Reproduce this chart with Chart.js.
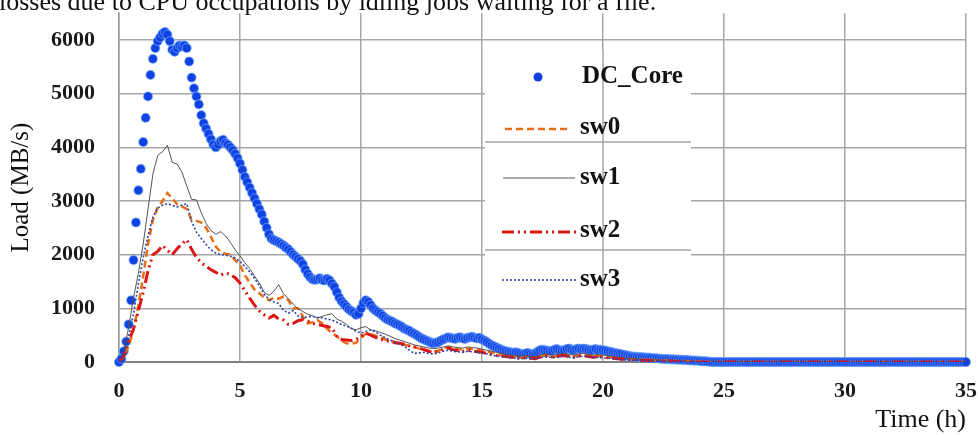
<!DOCTYPE html>
<html><head><meta charset="utf-8">
<script src="https://cdn.jsdelivr.net/npm/chart.js@4.4.1/dist/chart.umd.min.js"></script>
<style>
html,body{margin:0;padding:0;background:#fff;}
#wrap{position:relative;width:978px;height:435px;overflow:hidden;background:#fff;}
#topline{position:absolute;left:-1px;top:-11px;font:26px/26px "Liberation Serif",serif;color:#111;white-space:nowrap;}
canvas{position:absolute;left:0;top:0;}
</style></head><body>
<div id="wrap"><canvas id="c" width="978" height="435"></canvas><div id="topline">losses due to CPU occupations by idling jobs waiting for a file.</div></div>
<script>
const seriesNames = ['DC_Core', 'sw0', 'sw1', 'sw2', 'sw3'];
const xTicks = [0, 5, 10, 15, 20, 25, 30, 35];
const yTicks = [0, 1000, 2000, 3000, 4000, 5000, 6000];
const DC_STEP_H = 0.1;   // DC_Core sampled every 0.1 h
const SW_STEP_H = 0.2;   // switch series sampled every 0.2 h

const dcCore = [
0,60,200,380,700,1150,1900,2600,3200,3600,
4100,4550,4950,5350,5650,5850,5980,6050,6120,6150,
6100,5980,5820,5780,5850,5900,5880,5900,5850,5600,
5300,5100,4950,4800,4600,4450,4350,4250,4150,4050,
4000,4050,4120,4140,4080,4050,4000,3950,3880,3800,
3700,3580,3450,3350,3250,3150,3050,2950,2850,2750,
2620,2500,2380,2300,2270,2250,2230,2200,2170,2130,
2100,2050,2000,1960,1920,1880,1820,1720,1640,1580,
1540,1530,1540,1560,1530,1520,1550,1520,1460,1400,
1300,1200,1130,1080,1030,980,950,920,880,900,
1000,1100,1150,1120,1060,1000,960,930,900,860,
820,790,770,750,720,700,680,650,620,600,
580,550,530,500,470,440,420,400,380,360,
350,360,370,400,420,440,460,450,440,430,
450,460,440,430,450,460,470,450,440,450,
420,400,370,340,310,290,270,250,230,210,
200,190,180,170,180,170,150,140,160,170,
150,140,160,190,220,230,220,210,200,210,
230,240,220,210,220,240,250,230,220,240,
250,240,250,240,230,220,230,240,220,230,
220,210,200,190,180,170,160,150,140,130,
120,110,100,100,95,90,90,85,80,80,
75,70,70,65,60,60,55,55,50,50,
45,45,40,40,35,35,30,30,25,25,
20,15,15,10,5,0,0,0,0,0,
0,0,0,0,0,0,0,0,0,0,
0,0,0,0,0,0,0,0,0,0,
0,0,0,0,0,0,0,0,0,0,
0,0,0,0,0,0,0,0,0,0,
0,0,0,0,0,0,0,0,0,0,
0,0,0,0,0,0,0,0,0,0,
0,0,0,0,0,0,0,0,0,0,
0,0,0,0,0,0,0,0,0,0,
0,0,0,0,0,0,0,0,0,0,
0,0,0,0,0,0,0,0,0,0,
0
];

const sw0 = [
0,100,300,600,1050,
1600,2200,2650,2880,3000,
3150,3050,2940,2900,2850,
2650,2630,2600,2500,2330,
2150,2050,2020,2000,1900,
1800,1620,1480,1350,1280,
1200,1150,1200,1180,1220,
1150,1000,1000,850,720,
740,780,720,620,540,
480,400,350,340,360,
450,530,520,490,470,
420,400,370,350,320,
300,280,250,230,200,
190,210,250,280,260,
240,230,250,240,230,
220,200,180,150,130,
110,100,90,80,90,
80,70,100,120,110,
100,120,130,110,100,
120,130,110,100,110,
100,90,80,70,60,
60,50,50,40,40,
40,30,30,30,20,
20,20,20,10,10,
10,0,0,0,0,
0,0,0,0,0,0,0,0,0,0,
0,0,0,0,0,0,0,0,0,0,
0,0,0,0,0,0,0,0,0,0,
0,0,0,0,0,0,0,0,0,0,
0,0,0,0,0,0,0,0,0,0,
0
];

const sw1 = [
0,200,650,1200,1650,
2200,2850,3500,3850,3920,
4040,3720,3690,3540,3280,
3030,3020,2780,2580,2450,
2380,2430,2350,2230,2090,
1980,1850,1740,1600,1470,
1300,1240,1320,1440,1270,
1180,1080,990,940,890,
860,820,850,880,900,
800,760,700,620,600,
640,660,600,580,550,
520,480,440,410,380,
350,320,300,280,260,
250,260,280,300,280,
270,260,280,270,260,
240,220,200,180,160,
140,130,120,110,120,
110,100,130,150,140,
130,150,160,140,130,
150,160,140,130,140,
130,120,100,90,80,
70,60,60,50,50,
40,40,30,30,30,
20,20,20,10,10,
10,0,0,0,0,
0,0,0,0,0,0,0,0,0,0,
0,0,0,0,0,0,0,0,0,0,
0,0,0,0,0,0,0,0,0,0,
0,0,0,0,0,0,0,0,0,0,
0,0,0,0,0,0,0,0,0,0,
0
];

const sw2 = [
0,120,380,620,950,
1300,1700,2000,2060,2170,
2080,2000,2110,2200,2280,
2100,1950,1850,1780,1720,
1670,1620,1660,1630,1570,
1470,1330,1190,1060,950,
880,820,870,800,780,
700,720,770,790,760,
720,700,680,660,640,
480,420,410,400,420,
480,540,500,460,420,
400,380,360,350,330,
300,280,260,230,200,
180,200,240,260,230,
210,200,220,210,190,
180,160,140,120,110,
100,90,80,70,80,
70,60,90,110,100,
90,110,120,100,90,
110,120,100,90,100,
90,80,70,60,50,
50,40,40,30,30,
30,20,20,20,20,
10,10,10,10,0,
0,0,0,0,0,
0,0,0,0,0,0,0,0,0,0,
0,0,0,0,0,0,0,0,0,0,
0,0,0,0,0,0,0,0,0,0,
0,0,0,0,0,0,0,0,0,0,
0,0,0,0,0,0,0,0,0,0,
0
];

const sw3 = [
0,150,480,900,1450,
1950,2350,2700,2870,2920,
2950,2920,2890,2920,2950,
2620,2420,2300,2190,2090,
2030,2000,1990,1970,1940,
1870,1780,1680,1560,1420,
1260,1170,1120,1090,960,
910,960,860,830,840,
850,830,820,800,780,
740,700,670,630,570,
540,570,600,560,500,
450,410,370,330,290,
220,160,170,180,160,
150,170,200,220,200,
190,180,200,190,180,
170,150,130,110,100,
90,80,70,60,70,
60,60,80,100,90,
80,100,110,90,80,
100,110,90,80,90,
80,70,60,50,40,
40,30,30,30,20,
20,20,20,10,10,
10,10,0,0,0,
0,0,0,0,0,
0,0,0,0,0,0,0,0,0,0,
0,0,0,0,0,0,0,0,0,0,
0,0,0,0,0,0,0,0,0,0,
0,0,0,0,0,0,0,0,0,0,
0,0,0,0,0,0,0,0,0,0,
0
];

function toPoints(values, step) {
  return values.map((v, i) => ({ x: Math.round(i * step * 100) / 100, y: v }));
}

const styles = {
  dc:  { color: '#0f42e0', halo: 'rgba(110,165,255,0.6)' },
  sw0: { color: '#eb6c12', width: 2.5, dash: [7, 4] },
  sw1: { color: '#555555', width: 1, dash: [] },
  sw2: { color: '#dd1515', width: 3, dash: [12, 4, 2, 4, 2, 4] },
  sw3: { color: '#2b45a8', width: 1.6, dash: [2, 2] }
};

Chart.defaults.font.family = '"Liberation Serif", "Times New Roman", serif';
Chart.defaults.color = '#111';

const boxLegend = {
  id: 'boxLegend',
  afterDatasetsDraw(chart) {
    const ctx = chart.ctx, ys = chart.scales.y, xs = chart.scales.x;
    ctx.save();
    ctx.fillStyle = '#ffffff';
    ctx.fillRect(485, 50, 206, 254);
    ctx.strokeStyle = '#a6a6a6';
    ctx.lineWidth = 1.5;
    ctx.setLineDash([]);
    [4000, 2000].forEach(v => {
      const y = Math.round(ys.getPixelForValue(v)) - 5;
      ctx.beginPath(); ctx.moveTo(485, y); ctx.lineTo(691, y); ctx.stroke();
    });
    const gx = Math.round(xs.getPixelForValue(20));
    ctx.beginPath(); ctx.moveTo(gx, 50); ctx.lineTo(gx, 304); ctx.stroke();

    ctx.font = 'bold 25px "Liberation Serif", serif';
    ctx.textBaseline = 'middle';
    ctx.textAlign = 'left';
    ctx.beginPath(); ctx.arc(538, 77, 4.5, 0, Math.PI * 2);
    ctx.fillStyle = styles.dc.color; ctx.fill();
    ctx.fillStyle = '#111';
    ctx.fillText(seriesNames[0], 582, 77);
    const items = [
      { s: styles.sw0, x0: 505, x1: 570, y: 129, ty: 128, name: seriesNames[1] },
      { s: styles.sw1, x0: 503, x1: 575, y: 178, ty: 178, name: seriesNames[2] },
      { s: styles.sw2, x0: 502, x1: 577, y: 232, ty: 231, name: seriesNames[3] },
      { s: styles.sw3, x0: 502, x1: 577, y: 280, ty: 280, name: seriesNames[4] }
    ];
    items.forEach(it => {
      ctx.strokeStyle = it.s.color;
      ctx.lineWidth = it.s.width;
      ctx.setLineDash(it.s.dash);
      ctx.beginPath(); ctx.moveTo(it.x0, it.y); ctx.lineTo(it.x1, it.y); ctx.stroke();
      ctx.setLineDash([]);
      ctx.fillStyle = '#111';
      ctx.fillText(it.name, 580, it.ty);
    });
    ctx.restore();
  }
};

function lineSet(name, values, st, order) {
  return {
    label: name, data: toPoints(values, SW_STEP_H),
    borderColor: st.color, borderWidth: st.width, borderDash: st.dash,
    pointRadius: 0, pointHoverRadius: 0, tension: 0, fill: false, order: order
  };
}

new Chart(document.getElementById('c'), {
  type: 'line',
  data: {
    datasets: [
      {
        label: seriesNames[0], data: toPoints(dcCore, DC_STEP_H), showLine: false,
        pointRadius: 4.5, pointHoverRadius: 4.5, pointBackgroundColor: styles.dc.color,
        pointBorderColor: styles.dc.halo, pointBorderWidth: 1.2, order: 5, clip: 10
      },
      lineSet(seriesNames[1], sw0, styles.sw0, 4),
      lineSet(seriesNames[2], sw1, styles.sw1, 3),
      lineSet(seriesNames[3], sw2, styles.sw2, 2),
      lineSet(seriesNames[4], sw3, styles.sw3, 1)
    ]
  },
  options: {
    responsive: false, animation: false, devicePixelRatio: 1,
    layout: { padding: { left: 0, right: 12, top: 13, bottom: 0 } },
    plugins: { legend: { display: false }, tooltip: { enabled: false } },
    events: [],
    scales: {
      x: {
        type: 'linear', min: 0, max: 35,
        afterBuildTicks: s => { s.ticks = xTicks.map(v => ({ value: v })); },
        afterFit: s => { s.height = 73; },
        grid: { color: '#a6a6a6', lineWidth: 1.5, drawTicks: true, tickLength: 16, tickColor: 'rgba(0,0,0,0)' },
        border: { color: '#808080', width: 2 },
        ticks: { padding: 0, font: { size: 22, weight: 'bold' }, color: '#1a1a1a', maxRotation: 0,
                 callback: v => String(v) },
        title: { display: true, text: 'Time (h)', align: 'end', font: { size: 26, lineHeight: 1 }, padding: { top: 0, bottom: 2 }, color: '#111' }
      },
      y: {
        min: 0, max: 6500,
        afterBuildTicks: s => { s.ticks = yTicks.map(v => ({ value: v })); },
        afterFit: s => { s.width = 119; },
        grid: { color: '#a6a6a6', lineWidth: 1.5, drawTicks: true, tickLength: 24, tickColor: 'rgba(0,0,0,0)' },
        border: { color: '#9a9a9a', width: 1.5 },
        ticks: { padding: 0, font: { size: 22, weight: 'bold' }, color: '#1a1a1a',
                 callback: v => String(v) },
        title: { display: true, text: 'Load (MB/s)', font: { size: 25, lineHeight: 1 }, padding: { top: 9, bottom: 0 }, color: '#111' }
      }
    }
  },
  plugins: [boxLegend]
});
</script>
</body></html>
